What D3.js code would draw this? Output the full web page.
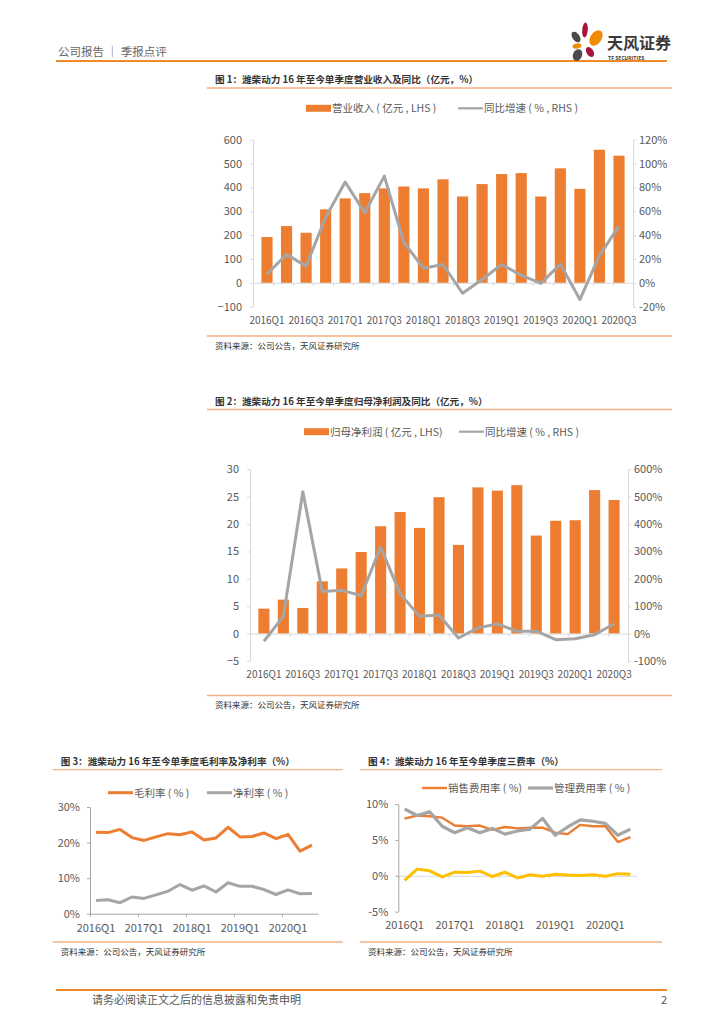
<!DOCTYPE html>
<html>
<head>
<meta charset="utf-8">
<script src="https://cdn.jsdelivr.net/npm/d3@7"></script>
<style>
  body { margin: 0; background: #fff; }
  svg { display: block; font-family: "Noto Sans CJK SC", "Noto Sans", sans-serif; }
</style>
</head>
<body>
<div id="page"></div>
<script>
// quarters shared by all four charts
const quarters = ['2016Q1', '2016Q2', '2016Q3', '2016Q4', '2017Q1', '2017Q2', '2017Q3', '2017Q4',
  '2018Q1', '2018Q2', '2018Q3', '2018Q4', '2019Q1', '2019Q2', '2019Q3', '2019Q4',
  '2020Q1', '2020Q2', '2020Q3']

// fig 1: revenue (100m yuan) and yoy (%)
const revenue = [192, 238, 210, 308, 354, 376, 396, 404, 396, 434, 362, 414, 456, 460, 362, 480, 394, 558, 533]
const revenueYoy = [7.3, 23.8, 14, 55, 84.5, 58.7, 89.5, 33.8, 12.3, 15.4, -8.7, 2.8, 15.4, 6.4, -0.5, 15.7, -14, 23, 47.5]

// fig 2: net profit attributable (100m yuan) and yoy (%)
const netProfit = [4.56, 6.2, 4.68, 9.54, 11.9, 14.9, 19.6, 22.2, 19.3, 24.9, 16.2, 26.7, 26.1, 27.1, 17.9, 20.6, 20.7, 26.2, 24.4]
const netProfitYoy = [-28, 63, 518, 154, 158, 139, 316, 146, 63, 68, -16, 21, 35, 9, 9, -22, -19, -4, 36]

// fig 3: gross / net margin (%)
const grossMargin = [22.9, 22.8, 23.7, 21.4, 20.6, 21.6, 22.5, 22.2, 23.0, 20.7, 21.3, 24.3, 21.6, 21.7, 22.7, 21.1, 22.3, 17.6, 19.3]
const netMargin = [3.7, 3.9, 3.1, 4.7, 4.3, 5.3, 6.3, 8.2, 6.6, 7.8, 6.1, 8.7, 7.7, 7.7, 6.8, 5.4, 6.7, 5.6, 5.7]

// fig 4: expense ratios (%)
const salesRate = [7.96, 8.4, 8.3, 8.1, 7.0, 6.9, 7.0, 6.4, 6.8, 6.6, 6.7, 6.7, 6.0, 5.8, 7.1, 6.9, 6.9, 4.7, 5.4]
const adminRate = [9.3, 8.4, 8.9, 6.9, 6.0, 6.7, 6.0, 6.6, 5.8, 6.25, 6.5, 8.0, 5.65, 6.8, 7.8, 7.6, 7.3, 5.65, 6.5]
const financeRate = [-0.65, 0.93, 0.7, -0.14, 0.5, 0.46, 0.65, -0.1, 0.5, -0.3, 0.14, -0.05, 0.23, 0.1, 0.05, 0.14, -0.05, 0.3, 0.2]

// tick values
const ticks1L = [-100, 0, 100, 200, 300, 400, 500, 600]
const ticks1R = [-20, 0, 20, 40, 60, 80, 100, 120]
const ticks2L = [-5, 0, 5, 10, 15, 20, 25, 30]
const ticks2R = [-100, 0, 100, 200, 300, 400, 500, 600]
const ticks3 = [0, 10, 20, 30]
const ticks4 = [-5, 0, 5, 10]

const orange = '#ED7D31'
const grey = '#A5A5A5'
const yellow = '#FFC000'
const lightOrange = '#F4B183'
const tickColor = '#595959'

const svg = d3.select('#page').append('svg').attr('width', 724).attr('height', 1024)

// ---------- page header ----------
svg.append('text').attr('x', 58).attr('y', 56).attr('font-size', 11.5).attr('fill', '#666')
  .text('公司报告 ｜ 季报点评')
svg.append('line').attr('x1', 56).attr('x2', 667).attr('y1', 61).attr('y2', 61)
  .attr('stroke', '#EE8A2A').attr('stroke-width', 2)

// logo
const logo = svg.append('g')
const petals = [
  { cx: 576, cy: 37, rx: 3.6, ry: 6, rot: -35, c: '#4A4A4A' },
  { cx: 585, cy: 30, rx: 2.8, ry: 7.5, rot: 5, c: '#A6163A' },
  { cx: 596, cy: 38, rx: 5.5, ry: 8.5, rot: 35, c: '#F08A00' },
  { cx: 577, cy: 46, rx: 4.5, ry: 2.6, rot: -10, c: '#F08A00' },
  { cx: 590, cy: 52, rx: 3.5, ry: 5.5, rot: -30, c: '#A6163A' },
  { cx: 577.5, cy: 55, rx: 4.5, ry: 6, rot: 25, c: '#4A4A4A' }
]
logo.selectAll('ellipse').data(petals).enter().append('ellipse')
  .attr('cx', d => d.cx).attr('cy', d => d.cy).attr('rx', d => d.rx).attr('ry', d => d.ry)
  .attr('transform', d => `rotate(${d.rot},${d.cx},${d.cy})`).attr('fill', d => d.c)
logo.append('text').attr('x', 607).attr('y', 49).attr('font-size', 16).attr('font-weight', 'bold')
  .attr('fill', '#3A3A3A').text('天风证券')
logo.append('text').attr('x', 608).attr('y', 59.5).attr('font-size', 5).attr('font-weight', 'bold')
  .attr('fill', '#3A3A3A').text('TF SECURITIES')

// ---------- footer ----------
svg.append('line').attr('x1', 56).attr('x2', 667).attr('y1', 990).attr('y2', 990)
  .attr('stroke', '#EE8A2A').attr('stroke-width', 2)
svg.append('text').attr('x', 92).attr('y', 1004).attr('font-size', 11).attr('fill', '#555')
  .text('请务必阅读正文之后的信息披露和免责申明')
svg.append('text').attr('x', 667).attr('y', 1004).attr('font-size', 11).attr('fill', '#555')
  .attr('text-anchor', 'end').text('2')

// ---------- helpers ----------
function frame(title, x1, x2, titleY, sourceY) {
  svg.append('text').attr('x', x1 + 8).attr('y', titleY + 4).attr('font-size', 9.6)
    .attr('font-weight', 'bold').attr('fill', '#333').text(title)
  svg.append('line').attr('x1', x1).attr('x2', x2).attr('y1', titleY + 9).attr('y2', titleY + 9)
    .attr('stroke', lightOrange).attr('stroke-width', 1.3)
  svg.append('line').attr('x1', x1).attr('x2', x2).attr('y1', sourceY - 9).attr('y2', sourceY - 9)
    .attr('stroke', lightOrange).attr('stroke-width', 1.3)
  svg.append('text').attr('x', x1 + 8).attr('y', sourceY + 3.5).attr('font-size', 8.5)
    .attr('fill', '#333').text('资料来源：公司公告，天风证券研究所')
}

function legendItem(g, type, x, y, color, label, thick) {
  if (type === 'rect') {
    g.append('rect').attr('x', x).attr('y', y - 3.5).attr('width', 25).attr('height', 7).attr('fill', color)
  } else {
    g.append('line').attr('x1', x).attr('x2', x + 25).attr('y1', y).attr('y2', y)
      .attr('stroke', color).attr('stroke-width', thick)
  }
  g.append('text').attr('x', x + 26).attr('y', y + 4).attr('font-size', 10.5).attr('fill', tickColor).text(label)
}

function styleAxis(g, lineColor, size) {
  g.select('.domain').attr('stroke', lineColor)
  g.selectAll('.tick line').attr('stroke', lineColor)
  g.selectAll('.tick text').attr('fill', tickColor).attr('font-size', size || 11)
    .attr('font-family', '"Noto Sans CJK SC", sans-serif')
}

// bar + line chart with two y axes
function barLine(cfg) {
  const g = svg.append('g')
  const x = d3.scaleBand().domain(quarters).range([cfg.x0, cfg.x1]).padding(0.43)
  const yL = d3.scaleLinear().domain(cfg.domainL).range([cfg.yBottom, cfg.yTop])
  const yR = d3.scaleLinear().domain(cfg.domainR).range([cfg.yBottom, cfg.yTop])

  // bars
  g.selectAll('rect.bar').data(cfg.bars).enter().append('rect').attr('class', 'bar')
    .attr('x', (d, i) => x(quarters[i])).attr('width', x.bandwidth())
    .attr('y', d => yL(Math.max(0, d))).attr('height', d => Math.abs(yL(d) - yL(0)))
    .attr('fill', orange)

  // zero axis with ticks at the band boundaries
  const idx = d3.scaleLinear().domain([0, quarters.length]).range([cfg.x0, cfg.x1])
  const zero = g.append('g').attr('transform', `translate(0,${yL(0)})`)
    .call(d3.axisBottom(idx).tickValues(d3.range(0, quarters.length + 1)).tickFormat('').tickSize(3).tickSizeOuter(0))
  styleAxis(zero, '#D9D9D9')

  const left = g.append('g').attr('transform', `translate(${cfg.x0},0)`)
    .call(d3.axisLeft(yL).tickValues(cfg.ticksL).tickSize(3).tickSizeOuter(0).tickPadding(8))
  styleAxis(left, '#D9D9D9')
  const right = g.append('g').attr('transform', `translate(${cfg.x1},0)`)
    .call(d3.axisRight(yR).tickValues(cfg.ticksR).tickFormat(d => d + '%').tickSize(3).tickSizeOuter(0).tickPadding(3))
  styleAxis(right, '#D9D9D9')

  const labels = g.append('g').attr('transform', `translate(0,${cfg.labelY - 4})`)
    .call(d3.axisBottom(x).tickValues(quarters.filter((d, i) => i % 2 === 0)).tickSize(0).tickPadding(0))
  labels.select('.domain').remove()
  styleAxis(labels, 'none', 10)

  // yoy line
  const line = d3.line().x((d, i) => x(quarters[i]) + x.bandwidth() / 2).y(d => yR(d))
  g.append('path').datum(cfg.line).attr('d', line).attr('fill', 'none')
    .attr('stroke', grey).attr('stroke-width', 3).attr('stroke-linejoin', 'round')

  legendItem(g, 'rect', cfg.legendX1, cfg.legendY, orange, cfg.barLabel)
  legendItem(g, 'line', cfg.legendX2, cfg.legendY, grey, cfg.lineLabel, 2.2)
}

// multi line chart
function lines(cfg) {
  const g = svg.append('g')
  const x = d3.scaleBand().domain(quarters).range([cfg.x0, cfg.x1])
  const y = d3.scaleLinear().domain(cfg.domain).range([cfg.yBottom, cfg.yTop])
  const idx = d3.scaleLinear().domain([0, quarters.length]).range([cfg.x0, cfg.x1])

  const base = g.append('g').attr('transform', `translate(0,${y(0)})`)
    .call(d3.axisBottom(idx).tickValues([0, 4, 8, 12, 16]).tickFormat('').tickSize(3).tickSizeOuter(0))
  styleAxis(base, cfg.baseColor)

  const left = g.append('g').attr('transform', `translate(${cfg.x0},0)`)
    .call(d3.axisLeft(y).tickValues(cfg.ticks).tickFormat(d => d + '%').tickSize(3).tickSizeOuter(0).tickPadding(7))
  styleAxis(left, '#A6A6A6')

  const labels = g.append('g').attr('transform', `translate(0,${cfg.labelY - 4})`)
    .call(d3.axisBottom(x).tickValues(quarters.filter((d, i) => i % 4 === 0)).tickSize(0).tickPadding(0))
  labels.select('.domain').remove()
  styleAxis(labels, 'none')

  const line = d3.line().x((d, i) => x(quarters[i]) + x.bandwidth() / 2).y(d => y(d))
  cfg.series.forEach(s => {
    g.append('path').datum(s.values).attr('d', line).attr('fill', 'none')
      .attr('stroke', s.color).attr('stroke-width', s.width).attr('stroke-linejoin', 'round')
  })
  cfg.series.filter(s => s.label).forEach(s => {
    legendItem(g, 'line', s.legendX, cfg.legendY, s.color, s.label, s.width)
  })
}

// ---------- fig 1 ----------
frame('图 1：潍柴动力 16 年至今单季度营业收入及同比（亿元，%）', 207, 672, 79, 345)
barLine({
  x0: 253, x1: 633, yTop: 139.7, yBottom: 306.7, labelY: 321,
  domainL: [-100, 600], domainR: [-20, 120], ticksL: ticks1L, ticksR: ticks1R,
  bars: revenue, line: revenueYoy,
  legendY: 108.3, legendX1: 306, legendX2: 458,
  barLabel: '营业收入 ( 亿元 , LHS )', lineLabel: '同比增速 ( % , RHS )'
})

// ---------- fig 2 ----------
frame('图 2：潍柴动力 16 年至今单季度归母净利润及同比（亿元，%）', 207, 672, 400.5, 704.5)
barLine({
  x0: 250, x1: 628, yTop: 469.3, yBottom: 661, labelY: 675,
  domainL: [-5, 30], domainR: [-100, 600], ticksL: ticks2L, ticksR: ticks2R,
  bars: netProfit, line: netProfitYoy,
  legendY: 431.7, legendX1: 304, legendX2: 459,
  barLabel: '归母净利润 ( 亿元 , LHS)', lineLabel: '同比增速 ( % , RHS )'
})

// ---------- fig 3 ----------
frame('图 3：潍柴动力 16 年至今单季度毛利率及净利率（%）', 52.7, 342.7, 760.7, 951)
lines({
  x0: 90, x1: 318, yTop: 807, yBottom: 913.7, labelY: 927.7,
  domain: [0, 30], ticks: ticks3, baseColor: '#A6A6A6', legendY: 792.7,
  series: [
    { values: grossMargin, color: orange, width: 3, label: '毛利率 ( % )', legendX: 108 },
    { values: netMargin, color: grey, width: 3, label: '净利率 ( % )', legendX: 207 }
  ]
})

// ---------- fig 4 ----------
frame('图 4：潍柴动力 16 年至今单季度三费率（%）', 360, 662, 760.7, 951)
lines({
  x0: 398.3, x1: 636.7, yTop: 804, yBottom: 911.7, labelY: 925,
  domain: [-5, 10], ticks: ticks4, baseColor: '#D9D9D9', legendY: 788,
  series: [
    { values: financeRate, color: yellow, width: 3 },
    { values: salesRate, color: orange, width: 2.4, label: '销售费用率 ( %)', legendX: 422 },
    { values: adminRate, color: grey, width: 3.2, label: '管理费用率 ( % )', legendX: 528 }
  ]
})
</script>
</body>
</html>
